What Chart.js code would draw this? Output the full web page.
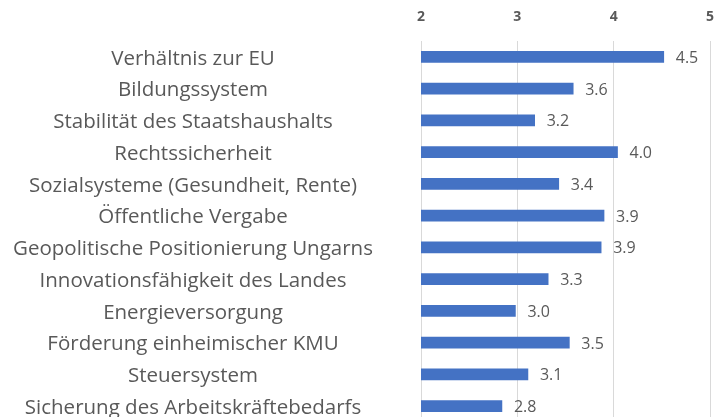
<!DOCTYPE html>
<html>
<head>
<meta charset="utf-8">
<script src="https://cdn.jsdelivr.net/npm/chart.js@4/dist/chart.umd.min.js"></script>
<style>
html,body{margin:0;padding:0;overflow:hidden;background:#fff;}
canvas{display:block;}
</style>
</head>
<body>
<canvas id="c" width="717" height="422" style="width:717px;height:422px;"></canvas>
<script>
const categories = [
  "Verhältnis zur EU",
  "Bildungssystem",
  "Stabilität des Staatshaushalts",
  "Rechtssicherheit",
  "Sozialsysteme (Gesundheit, Rente)",
  "Öffentliche Vergabe",
  "Geopolitische Positionierung Ungarns",
  "Innovationsfähigkeit des Landes",
  "Energieversorgung",
  "Förderung einheimischer KMU",
  "Steuersystem",
  "Sicherung des Arbeitskräftebedarfs"
];
const values = [4.52, 3.58, 3.18, 4.04, 3.43, 3.90, 3.87, 3.32, 2.98, 3.54, 3.11, 2.84];
const xTicks = [2, 3, 4, 5];

const FONT = "'Open Sans', sans-serif";
const GRAY = "#595959";
const CAT_SIZE = 20.5;
const AXIS_LEFT = 421;
const AXIS_TOP = 41;
const LABEL_CENTER = 193;

const valueLabels = {
  id: 'valueLabels',
  afterDatasetsDraw(chart) {
    const ctx = chart.ctx;
    const meta = chart.getDatasetMeta(0);
    ctx.save();
    ctx.font = "16px " + FONT;
    ctx.fillStyle = GRAY;
    ctx.textAlign = 'left';
    ctx.textBaseline = 'middle';
    meta.data.forEach((bar, i) => {
      ctx.fillText(values[i].toFixed(1), bar.x + 12, bar.y + 1.5);
    });
    ctx.restore();
  }
};

function build() {
  const mctx = document.createElement('canvas').getContext('2d');
  mctx.font = CAT_SIZE + "px " + FONT;
  const widest = Math.max(...categories.map(t => mctx.measureText(t).width));
  const yPad = AXIS_LEFT - LABEL_CENTER - widest / 2;

  new Chart(document.getElementById('c'), {
    type: 'bar',
    data: {
      labels: categories,
      datasets: [{
        data: values,
        backgroundColor: '#4472C4',
        barThickness: 11
      }]
    },
    options: {
      indexAxis: 'y',
      responsive: false,
      animation: false,
      devicePixelRatio: 1,
      layout: { padding: { top: 0, right: 7, left: 0, bottom: 0 } },
      plugins: { legend: { display: false }, tooltip: { enabled: false } },
      scales: {
        x: {
          position: 'top',
          min: xTicks[0],
          max: xTicks[xTicks.length - 1],
          afterBuildTicks(scale) { scale.ticks = xTicks.map(v => ({ value: v })); },
          afterFit(scale) { scale.paddingLeft = 0; scale.paddingRight = 0; scale.height = AXIS_TOP; },
          grid: { color: '#d9d9d9', lineWidth: 1, drawTicks: false },
          border: { display: false },
          ticks: {
            padding: 15.5,
            maxRotation: 0,
            color: GRAY,
            font: { family: FONT, size: 14, weight: 'bold' }
          }
        },
        y: {
          grid: { display: false, drawTicks: false },
          border: { display: false },
          afterFit(scale) { scale.width = AXIS_LEFT; scale.paddingTop = 0; scale.paddingBottom = 0; },
          ticks: {
            crossAlign: 'center',
            padding: yPad,
            labelOffset: 2,
            color: GRAY,
            autoSkip: false,
            font: { family: FONT, size: CAT_SIZE }
          }
        }
      }
    },
    plugins: [valueLabels]
  });
}

Promise.all([
  document.fonts.load(CAT_SIZE + "px 'Open Sans'"),
  document.fonts.load("bold 14px 'Open Sans'"),
  document.fonts.load("16px 'Open Sans'")
]).then(build, build);
</script>
</body>
</html>
